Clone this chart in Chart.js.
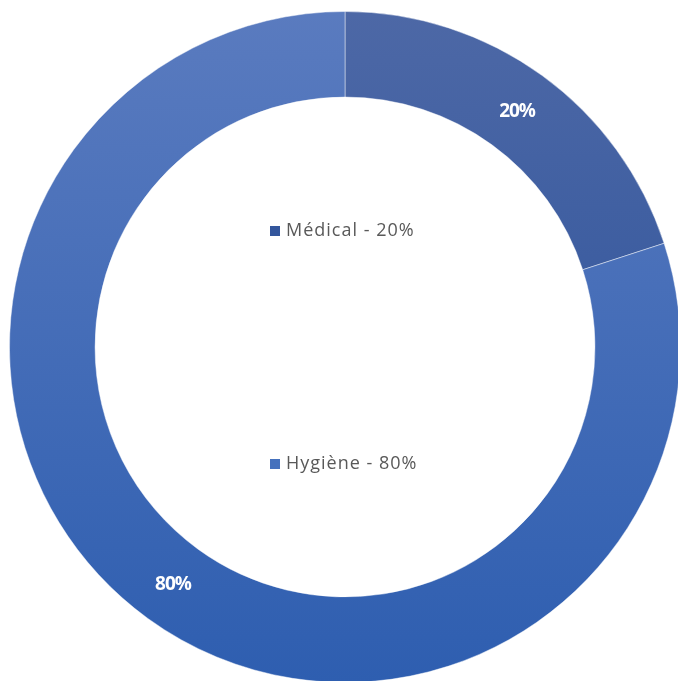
<!DOCTYPE html>
<html>
<head>
<meta charset="utf-8">
<script src="https://cdn.jsdelivr.net/npm/chart.js@4"></script>
<style>
  html, body { margin: 0; padding: 0; background: #fff; overflow: hidden; }
  #wrap { position: absolute; left: 9px; top: 11px; width: 672px; height: 672px; }
</style>
</head>
<body>
<div id="wrap"><canvas id="donut" width="672" height="672"></canvas></div>
<script>
const categories = ["Médical", "Hygiène"];
const shares = [20, 80];
const legendTexts = ["Médical - 20%", "Hygiène - 80%"];

// vertical gradients like the office chart look
const gradTop = ["#4d68a6", "#5a7bbf"];
const gradBottom = ["#244d98", "#2e5eb0"];
const swatch = ["#33569c", "#4571bd"];

const fillFor = (context) => {
  const chart = context.chart;
  const area = chart.chartArea;
  if (!area) return swatch[context.dataIndex];
  const g = chart.ctx.createLinearGradient(0, area.top, 0, area.bottom);
  g.addColorStop(0, gradTop[context.dataIndex]);
  g.addColorStop(1, gradBottom[context.dataIndex]);
  return g;
};

const sliceLabels = {
  id: "sliceLabels",
  afterDatasetsDraw: (chart) => {
    const ctx = chart.ctx;
    ctx.save();
    ctx.fillStyle = "#ffffff";
    ctx.font = "bold 19px 'Open Sans'";
    ctx.letterSpacing = "-1px";
    ctx.textAlign = "center";
    ctx.textBaseline = "middle";
    chart.getDatasetMeta(0).data.forEach((arc, i) => {
      const p = arc.tooltipPosition();
      ctx.fillText(shares[i] + "%", p.x, p.y + 1);
    });
    ctx.restore();
  },
};

// legend sits inside the hole, one row above and one below the middle
const holeLegend = {
  id: "holeLegend",
  afterDraw: (chart) => {
    const ctx = chart.ctx;
    const arc = chart.getDatasetMeta(0).data[0];
    const cx = arc.x, cy = arc.y;
    const rows = [cy - 116, cy + 117];
    ctx.save();
    ctx.font = "18px 'Open Sans'";
    ctx.letterSpacing = "1px";
    ctx.textBaseline = "middle";
    ctx.textAlign = "left";
    legendTexts.forEach((t, i) => {
      const y = rows[i];
      const x0 = cx - 75;
      ctx.fillStyle = swatch[i];
      ctx.fillRect(x0, y - 5, 10, 10);
      ctx.fillStyle = "#595959";
      ctx.fillText(t, x0 + 16, y);
    });
    ctx.restore();
  },
};

new Chart(document.getElementById("donut"), {
  type: "doughnut",
  data: {
    labels: categories,
    datasets: [
      {
        data: shares,
        backgroundColor: fillFor,
        borderColor: "rgba(255,255,255,0.45)",
        borderWidth: 1,
      },
    ],
  },
  plugins: [sliceLabels, holeLegend],
  options: {
    responsive: false,
    animation: false,
    cutout: "74.5%",
    layout: { padding: 0 },
    plugins: {
      legend: { display: false },
      tooltip: { enabled: false },
    },
  },
});
</script>
</body>
</html>
